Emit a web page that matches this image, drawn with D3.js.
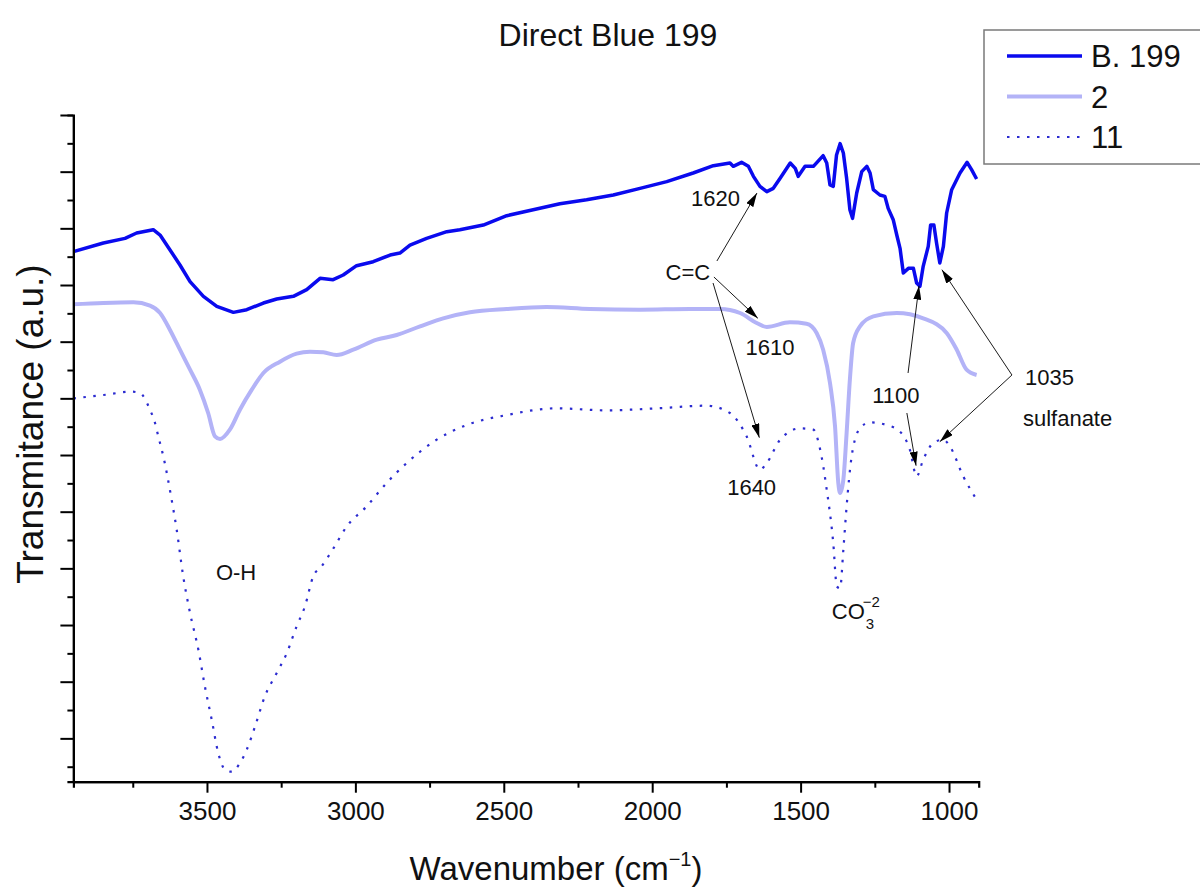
<!DOCTYPE html>
<html>
<head>
<meta charset="utf-8">
<script src="https://cdn.jsdelivr.net/npm/d3@7"></script>
<style>
  body { margin: 0; background: #fff; }
  svg { display: block; font-family: Arial, 'Liberation Sans', sans-serif; }
  .x-axis .tick text { font-size: 26px; fill: #111; font-family: Arial, 'Liberation Sans', sans-serif; }
</style>
</head>
<body>
<div id="chart"></div>
<script>
// wavenumber (cm-1), transmittance (a.u., 0-100 over the plot height)
const b199 = [
  [3950, 79.5], [3849, 80.8], [3776, 81.5], [3737, 82.3], [3681, 82.8], [3658, 82.0],
  [3625, 79.8], [3591, 77.5], [3557, 75.0], [3512, 72.8], [3467, 71.3], [3411, 70.4],
  [3366, 70.8], [3310, 71.8], [3265, 72.4], [3209, 72.8], [3164, 73.8], [3119, 75.5],
  [3075, 75.3], [3041, 76.0], [2996, 77.4], [2940, 78.0], [2883, 79.0], [2850, 79.3],
  [2816, 80.5], [2760, 81.5], [2692, 82.5], [2648, 82.8], [2569, 83.5], [2490, 84.9],
  [2401, 85.8], [2311, 86.7], [2221, 87.3], [2131, 88.0], [2041, 89.0], [1951, 90.0],
  [1862, 91.3], [1794, 92.4], [1738, 92.8], [1727, 92.3], [1699, 92.9], [1676, 92.3],
  [1659, 90.8], [1637, 89.3], [1614, 88.5], [1592, 89.0], [1569, 90.5], [1535, 92.8],
  [1518, 92.0], [1508, 90.8], [1485, 92.3], [1457, 92.3], [1424, 93.9], [1412, 92.8],
  [1401, 89.5], [1390, 89.3], [1379, 94.0], [1367, 95.7], [1356, 94.3], [1345, 90.5],
  [1334, 85.8], [1325, 84.5], [1311, 88.3], [1294, 91.5], [1277, 92.3], [1266, 91.3],
  [1255, 88.8], [1233, 88.0], [1216, 87.8], [1205, 86.0], [1188, 84.3], [1176, 82.0],
  [1165, 80.0], [1154, 76.3], [1137, 77.0], [1120, 77.0], [1109, 74.8], [1098, 74.3],
  [1087, 77.3], [1070, 80.3], [1062, 83.5], [1051, 83.5], [1042, 80.8], [1031, 77.8],
  [1019, 80.3], [1008, 85.3], [991, 88.8], [963, 91.3], [939, 92.9], [924, 91.8], [907, 90.4]
]

const sample2 = [
  [3950, 71.6], [3849, 71.8], [3748, 71.9], [3692, 71.4], [3658, 70.3], [3625, 67.8],
  [3591, 64.8], [3557, 61.8], [3524, 58.8], [3496, 55.3], [3473, 51.8], [3456, 51.4],
  [3423, 52.8], [3389, 55.8], [3349, 58.8], [3310, 61.3], [3254, 63.0], [3198, 64.2],
  [3153, 64.5], [3108, 64.4], [3063, 64.0], [3007, 64.8], [2928, 66.3], [2861, 67.0],
  [2782, 68.3], [2704, 69.5], [2614, 70.4], [2490, 70.9], [2356, 71.2], [2210, 70.9],
  [2041, 70.8], [1873, 70.9], [1772, 70.9], [1704, 70.3], [1648, 68.8], [1614, 68.2],
  [1536, 68.9], [1480, 68.7], [1446, 67.3], [1424, 64.8], [1401, 59.8], [1384, 53.3],
  [1373, 44.8], [1367, 43.3], [1356, 45.3], [1345, 52.3], [1334, 60.3], [1323, 65.8],
  [1300, 68.3], [1255, 69.8], [1176, 70.3], [1087, 69.5], [1008, 67.3], [974, 64.8],
  [941, 61.8], [907, 61.0]
]

const sample11 = [
  [3950, 57.5], [3849, 58.0], [3754, 58.5], [3726, 58.3], [3692, 55.8], [3675, 53.8],
  [3664, 51.8], [3647, 48.8], [3619, 42.3], [3602, 37.8], [3580, 30.8], [3557, 25.3],
  [3529, 19.8], [3507, 14.3], [3484, 9.3], [3462, 4.3], [3439, 1.8], [3417, 1.5],
  [3389, 2.8], [3366, 4.8], [3338, 8.3], [3305, 12.8], [3265, 16.3], [3231, 19.3],
  [3198, 23.3], [3170, 26.3], [3142, 30.8], [3114, 32.3], [3074, 35.0], [3029, 38.3],
  [2962, 41.3], [2895, 44.8], [2827, 47.8], [2726, 51.3], [2625, 53.5], [2490, 55.0],
  [2322, 56.0], [2153, 55.7], [1985, 56.0], [1817, 56.4], [1738, 55.3], [1682, 51.8],
  [1637, 46.8], [1614, 47.8], [1569, 51.3], [1502, 53.0], [1457, 52.8], [1434, 49.8],
  [1412, 43.8], [1390, 35.8], [1378, 29.3], [1367, 29.0], [1356, 34.8], [1345, 41.3],
  [1328, 48.8], [1300, 53.0], [1266, 53.9], [1210, 53.5], [1165, 52.5], [1132, 49.8],
  [1109, 45.8], [1087, 48.3], [1053, 50.8], [1019, 51.3], [997, 50.3], [952, 45.8], [907, 42.3]
]

const seriesNames = ['B. 199', '2', '11']
const xTicksMajor = [3500, 3000, 2500, 2000, 1500, 1000]
const xTicksMinor = [3750, 3250, 2750, 2250, 1750, 1250]
const yTicksMajor = [100, 91.5, 83, 74.5, 66, 57.5, 49, 40.5, 32, 23.5, 15, 6.5]
const yTicksMinor = [95.75, 87.25, 78.75, 70.25, 61.75, 53.25, 44.75, 36.25, 27.75, 19.25, 10.75, 2.25]

// peak labels: text, wavenumber, value, anchor
const peakLabels = [
  ['1620', 1787, 86.4, 'middle'],
  ['C=C', 1880, 75.3, 'middle'],
  ['1610', 1603, 64.0, 'middle'],
  ['1640', 1665, 43.0, 'middle'],
  ['1100', 1179, 56.8, 'middle'],
  ['1035', 744, 59.5, 'start'],
  ['sulfanate', 751, 53.4, 'start'],
  ['O-H', 3402, 30.3, 'middle']
]
// arrows: from [w, v] to [w, v]
const peakArrows = [
  [[1782, 78.1], [1647, 88.3]],
  [[1792, 75.7], [1644, 69.5]],
  [[1795, 74.8], [1639, 51.6]],
  [[1138, 61.3], [1101, 74.4]],
  [[1142, 55.3], [1111, 47.4]],
  [[788, 61.0], [1024, 76.8]],
  [[788, 61.0], [1031, 51.0]]
]
const carbonate = [1395, 24.4]

const width = 1200
const height = 889

const x = d3.scaleLinear().domain([3950, 900]).range([73.4, 978.7])
const y = d3.scaleLinear().domain([0, 100]).range([781.7, 115])

const svg = d3.select('#chart').append('svg')
  .attr('width', width)
  .attr('height', height)

svg.append('defs').append('marker')
  .attr('id', 'head')
  .attr('viewBox', '0 0 14 8')
  .attr('refX', 14)
  .attr('refY', 4)
  .attr('markerWidth', 14)
  .attr('markerHeight', 8)
  .attr('markerUnits', 'userSpaceOnUse')
  .attr('orient', 'auto')
  .append('path')
  .attr('d', 'M0,0 L14,4 L0,8 Z')
  .attr('fill', '#000')

// curves
const line = d3.line().x(d => x(d[0])).y(d => y(d[1]))

svg.append('path').datum(sample11)
  .attr('fill', 'none')
  .attr('stroke', '#2b2bd0')
  .attr('stroke-width', 2.2)
  .attr('stroke-dasharray', '2.5 7.5')
  .attr('d', line.curve(d3.curveMonotoneX))

svg.append('path').datum(sample2)
  .attr('fill', 'none')
  .attr('stroke', '#b3b3f7')
  .attr('stroke-width', 4)
  .attr('stroke-linejoin', 'round')
  .attr('d', line.curve(d3.curveMonotoneX))

svg.append('path').datum(b199)
  .attr('fill', 'none')
  .attr('stroke', '#0a0aee')
  .attr('stroke-width', 3.5)
  .attr('stroke-linejoin', 'round')
  .attr('d', line.curve(d3.curveLinear))

// axes
const xAxis = svg.append('g').attr('class', 'x-axis').attr('transform', `translate(0,${y(0)})`)
xAxis.call(d3.axisBottom(x).tickValues(xTicksMajor).tickSize(11).tickSizeOuter(0)
  .tickPadding(9).tickFormat(d3.format('d')))
xAxis.call(g => g.append('g').call(d3.axisBottom(x).tickValues(xTicksMinor).tickSize(6).tickFormat('')))
xAxis.selectAll('.domain').attr('stroke-width', 2.2)
xAxis.selectAll('.tick line').attr('stroke-width', 2)

const yAxis = svg.append('g').attr('transform', `translate(${x(3950)},0)`)
yAxis.call(d3.axisLeft(y).tickValues(yTicksMajor).tickSize(13).tickSizeOuter(0).tickFormat(''))
yAxis.call(g => g.append('g').call(d3.axisLeft(y).tickValues(yTicksMinor).tickSize(6).tickFormat('')))
yAxis.selectAll('.domain').attr('stroke-width', 2.2)
yAxis.selectAll('.tick line').attr('stroke-width', 2)

// titles
svg.append('text')
  .attr('x', 608).attr('y', 46)
  .attr('text-anchor', 'middle')
  .attr('font-size', 32)
  .attr('fill', '#111')
  .text('Direct Blue 199')

const xTitle = svg.append('text')
  .attr('x', 556).attr('y', 880)
  .attr('text-anchor', 'middle')
  .attr('font-size', 33)
  .attr('fill', '#111')
xTitle.append('tspan').text('Wavenumber (cm')
xTitle.append('tspan').attr('font-size', 20).attr('dy', -14).text('\u22121')
xTitle.append('tspan').attr('dy', 14).text(')')

svg.append('text')
  .attr('transform', 'translate(43,424) rotate(-90)')
  .attr('text-anchor', 'middle')
  .attr('font-size', 37)
  .attr('fill', '#111')
  .text('Transmitance (a.u.)')

// annotations
svg.append('g').selectAll('line')
  .data(peakArrows)
  .join('line')
  .attr('x1', d => x(d[0][0])).attr('y1', d => y(d[0][1]))
  .attr('x2', d => x(d[1][0])).attr('y2', d => y(d[1][1]))
  .attr('stroke', '#000')
  .attr('stroke-width', 0.9)
  .attr('marker-end', 'url(#head)')

svg.append('g').selectAll('text')
  .data(peakLabels)
  .join('text')
  .attr('x', d => x(d[1])).attr('y', d => y(d[2]))
  .attr('text-anchor', d => d[3])
  .attr('font-size', 22)
  .attr('fill', '#111')
  .text(d => d[0])

const co = svg.append('g')
  .attr('transform', `translate(${x(carbonate[0])},${y(carbonate[1])})`)
  .attr('fill', '#111')
co.append('text').attr('font-size', 22).text('CO')
co.append('text').attr('x', 34).attr('y', 10).attr('font-size', 15).text('3')
co.append('text').attr('x', 31).attr('y', -12).attr('font-size', 15).text('\u22122')

// legend
const legend = svg.append('g').attr('transform', 'translate(984,30)')
legend.append('rect')
  .attr('width', 240).attr('height', 134)
  .attr('fill', '#fff')
  .attr('stroke', '#7a7a7a')
  .attr('stroke-width', 1.5)

const legendStyles = [
  {stroke: '#0a0aee', width: 3.5, dash: null},
  {stroke: '#b3b3f7', width: 4, dash: null},
  {stroke: '#2b2bd0', width: 2.2, dash: '2.5 7.5'}
]
const rows = legend.selectAll('.row')
  .data(seriesNames)
  .join('g')
  .attr('class', 'row')
  .attr('transform', (d, i) => `translate(0,${26 + i * 40.5})`)
rows.append('line')
  .attr('x1', 23).attr('x2', 98)
  .attr('stroke', (d, i) => legendStyles[i].stroke)
  .attr('stroke-width', (d, i) => legendStyles[i].width)
  .attr('stroke-dasharray', (d, i) => legendStyles[i].dash)
rows.append('text')
  .attr('x', 107).attr('y', 11)
  .attr('font-size', 31)
  .attr('fill', '#111')
  .text(d => d)
</script>
</body>
</html>
